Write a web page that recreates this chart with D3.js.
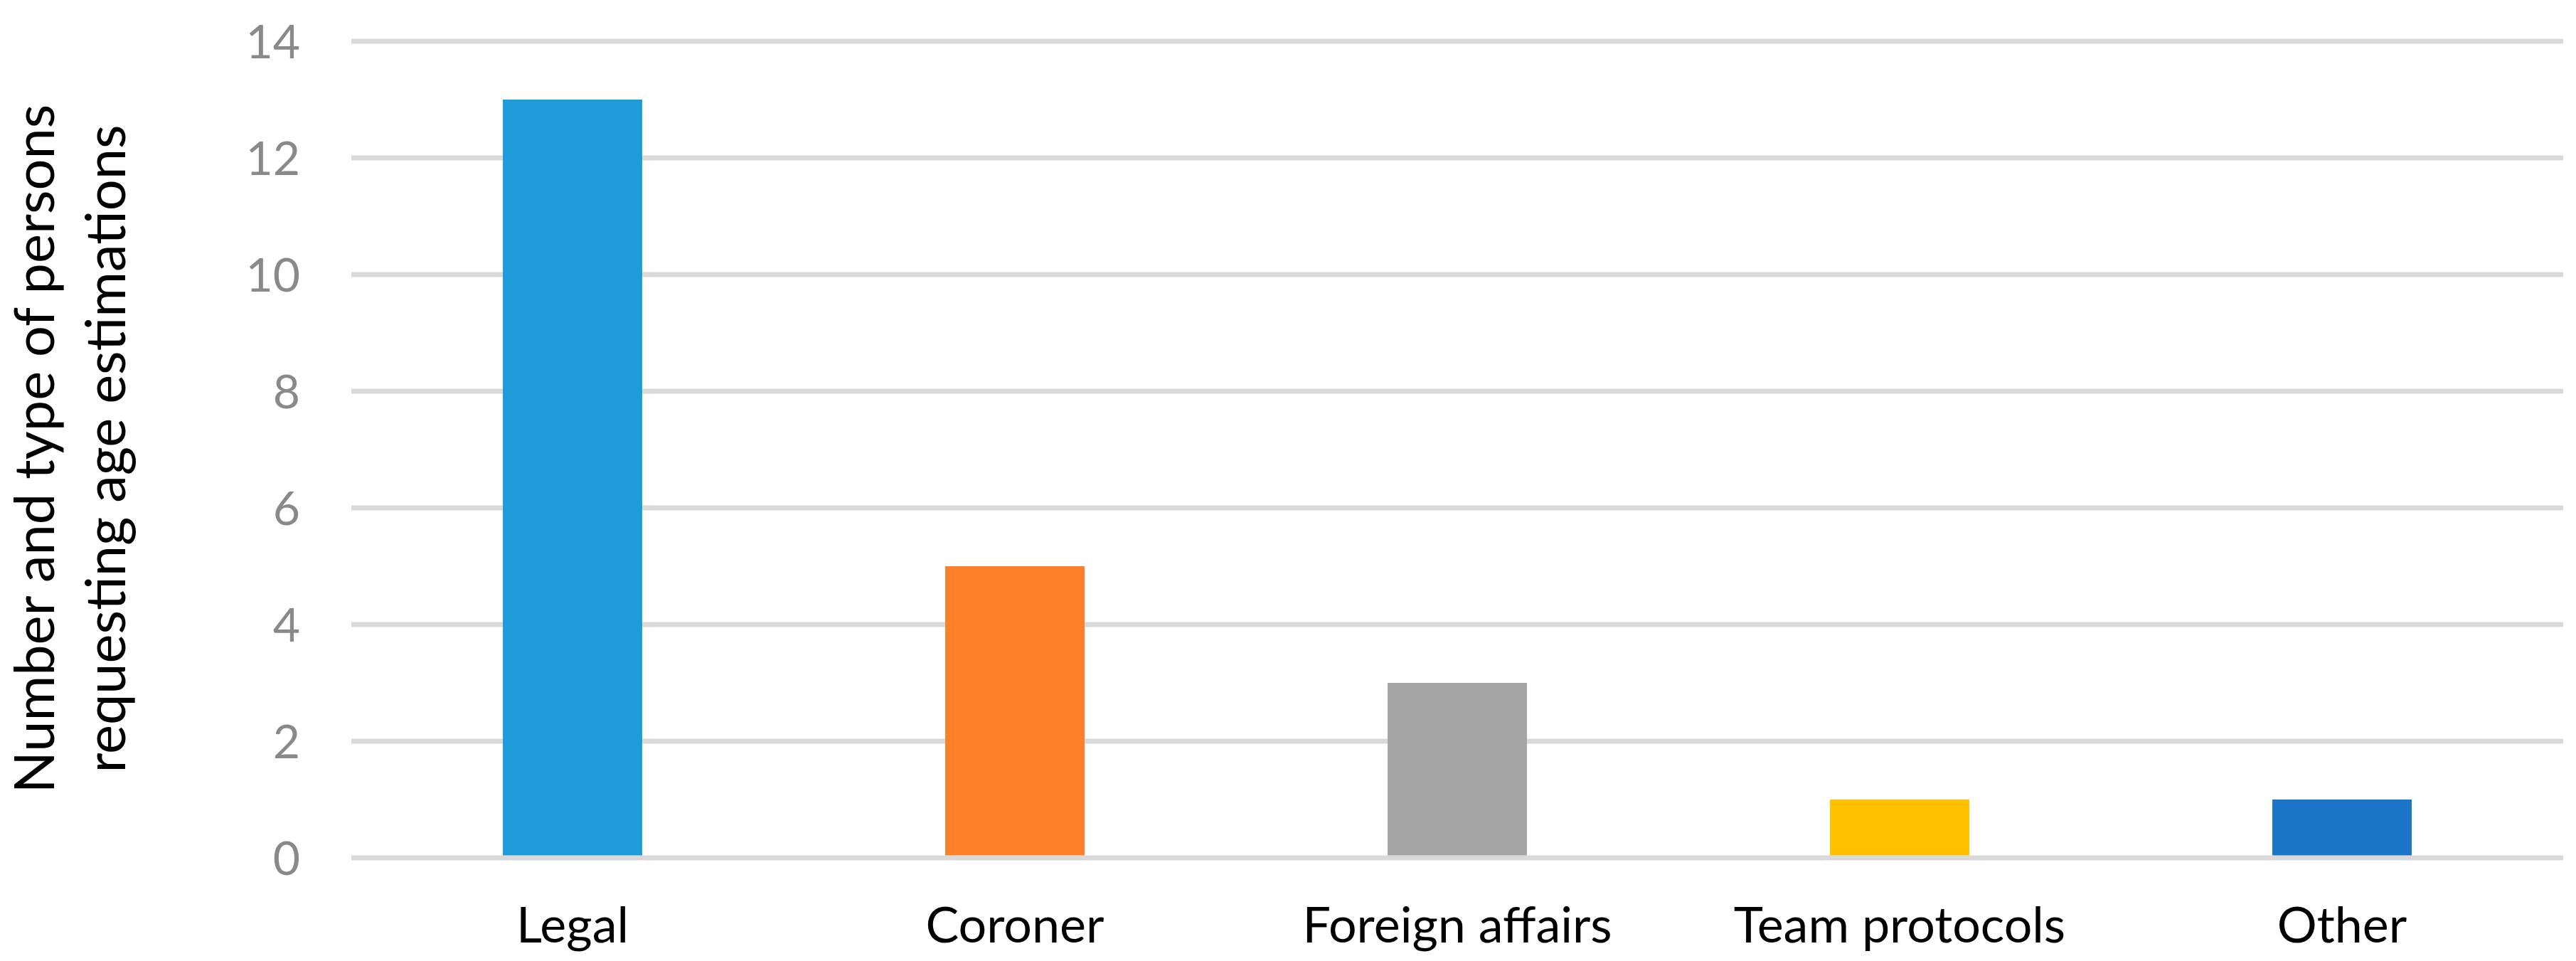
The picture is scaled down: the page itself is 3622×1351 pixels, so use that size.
<!DOCTYPE html>
<html><head><meta charset="utf-8">
<script src="https://cdn.jsdelivr.net/npm/d3@7"></script>
<style>html,body{margin:0;padding:0;background:#fff;}svg{display:block;}</style>
</head><body>
<svg id="chart" width="3622" height="1351"></svg>
<script>
const categories = ["Legal", "Coroner", "Foreign affairs", "Team protocols", "Other"];
const values = [13, 5, 3, 1, 1];
const barColors = ["#1E9CD9", "#FE7F2A", "#A5A5A5", "#FFC000", "#1A75C9"];
const yTicks = [0, 2, 4, 6, 8, 10, 12, 14];
const yTitleLines = ["Number and type of persons", "requesting age estimations"];

(function () {
const svg = d3.select("#chart");
const mLeft = 494, mRight = 3604, mTop = 58, mBottom = 1206;
const font = "Lato, 'Open Sans', sans-serif";

const x = d3.scaleBand().domain(categories).range([mLeft, mRight]).paddingInner(0).paddingOuter(0);
const y = d3.scaleLinear().domain([0, 14]).range([mBottom, mTop]);

svg.append("g").selectAll("line").data(yTicks).join("line")
  .attr("x1", mLeft).attr("x2", mRight)
  .attr("y1", d => y(d)).attr("y2", d => y(d))
  .attr("stroke", "#d9d9d9").attr("stroke-width", 7);

const bw = x.bandwidth() * 0.315;
svg.append("g").selectAll("rect").data(values).join("rect")
  .attr("x", (d, i) => x(categories[i]) + x.bandwidth() / 2 - bw / 2)
  .attr("width", bw)
  .attr("y", d => y(d))
  .attr("height", d => y(0) - y(d) - 3.5)
  .attr("fill", (d, i) => barColors[i]);

const yAxis = d3.axisLeft(y).tickValues(yTicks).tickSize(0).tickPadding(0);
const gy = svg.append("g").attr("transform", "translate(422,0)").call(yAxis);
gy.select(".domain").remove();
gy.selectAll("text").attr("font-family", font).attr("font-size", 66).attr("fill", "#898989").attr("dy", "0.36em");

const xAxis = d3.axisBottom(x).tickSize(0).tickPadding(0);
const gx = svg.append("g").attr("transform", "translate(0,1325)").call(xAxis);
gx.select(".domain").remove();
gx.selectAll("text").attr("font-family", font).attr("font-size", 70).attr("fill", "#000").attr("dy", 0);

const cy = 631;
yTitleLines.forEach((t, i) => {
  const bx = [76, 176][i];
  svg.append("text")
    .attr("transform", `translate(${bx},${cy}) rotate(-90)`)
    .attr("text-anchor", "middle")
    .attr("font-family", font).attr("font-size", 77.5).attr("fill", "#000")
    .text(t);
});
})();
</script>
</body></html>
